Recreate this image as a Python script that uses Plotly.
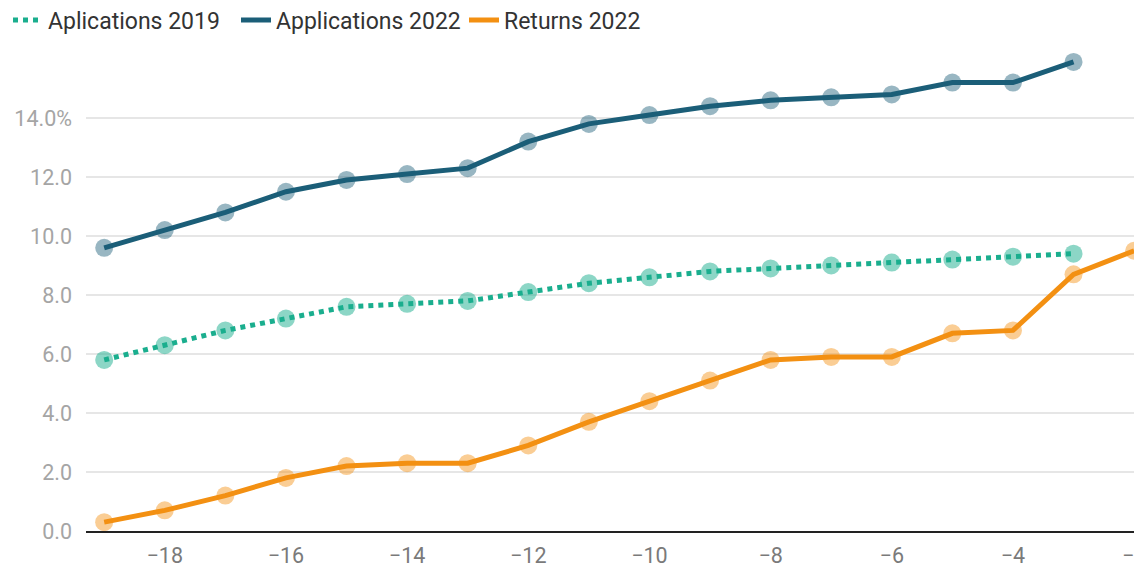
import plotly.graph_objects as go

x = [-19, -18, -17, -16, -15, -14, -13, -12, -11, -10, -9, -8, -7, -6, -5, -4, -3]
x_returns = [-19, -18, -17, -16, -15, -14, -13, -12, -11, -10, -9, -8, -7, -6, -5, -4, -3, -2]

aplications_2019 = [5.8, 6.3, 6.8, 7.2, 7.6, 7.7, 7.8, 8.1, 8.4, 8.6, 8.8, 8.9, 9.0, 9.1, 9.2, 9.3, 9.4]
applications_2022 = [9.6, 10.2, 10.8, 11.5, 11.9, 12.1, 12.3, 13.2, 13.8, 14.1, 14.4, 14.6, 14.7, 14.8, 15.2, 15.2, 15.9]
returns_2022 = [0.3, 0.7, 1.2, 1.8, 2.2, 2.3, 2.3, 2.9, 3.7, 4.4, 5.1, 5.8, 5.9, 5.9, 6.7, 6.8, 8.7, 9.5]

y_tickvals = [0, 2, 4, 6, 8, 10, 12, 14]
y_ticktext = ["0.0", "2.0", "4.0", "6.0", "8.0", "10.0", "12.0", "14.0%"]
x_tickvals = [-18, -16, -14, -12, -10, -8, -6, -4, -2]
x_ticktext = ["\u221218", "\u221216", "\u221214", "\u221212", "\u221210", "\u22128", "\u22126", "\u22124", "\u22122"]

TEAL = "#1aae8e"
BLUE = "#1b5e78"
ORANGE = "#f39012"

series = [
    ("Aplications 2019", x, aplications_2019, TEAL, "dot", "rgba(26,174,142,0.5)"),
    ("Applications 2022", x, applications_2022, BLUE, "solid", "rgba(27,94,120,0.45)"),
    ("Returns 2022", x_returns, returns_2022, ORANGE, "solid", "rgba(243,144,18,0.45)"),
]

fig = go.Figure()
# markers underneath the lines
for name, xs, ys, col, dash, mcol in series:
    fig.add_trace(go.Scatter(
        x=xs, y=ys, mode="markers", showlegend=False, name=name,
        marker=dict(size=18, color=mcol, line=dict(width=0)),
        cliponaxis=False,
    ))
for name, xs, ys, col, dash, mcol in series:
    fig.add_trace(go.Scatter(
        x=xs, y=ys, mode="lines", name=name,
        line=dict(color=col, width=5, dash=dash),
        cliponaxis=False,
    ))

fig.update_layout(
    width=1134, height=559,
    margin=dict(l=78, r=0, t=51, b=36, autoexpand=False),
    paper_bgcolor="white", plot_bgcolor="white",
    font=dict(family="Roboto, sans-serif", color="#999999", size=21),
    showlegend=True,
    legend=dict(
        orientation="h", xref="container", yref="paper",
        x=0.0, y=1.0826, xanchor="left", yanchor="middle",
        font=dict(size=23, color="#333333"),
        itemwidth=30, traceorder="normal",
        entrywidth=183, entrywidthmode="pixels",
        bgcolor="rgba(0,0,0,0)",
    ),
    hovermode=False,
)
fig.update_xaxes(
    range=[-19.3, -1.87], tickvals=x_tickvals, ticktext=x_ticktext,
    showgrid=False, zeroline=False, showline=True, linecolor="#222222", linewidth=2,
    ticks="", ticklabeloverflow="allow", ticklabelstandoff=4,
    tickfont=dict(size=21.5, color="#7a7a7a"),
)
fig.update_yaxes(
    range=[0, 16], tickvals=y_tickvals, ticktext=y_ticktext,
    showgrid=True, gridcolor="#e6e6e6", gridwidth=1.5, zeroline=False,
    ticks="", ticklabelstandoff=13, tickfont=dict(size=21.5, color="#a5a5a5"),
)

fig.write_html("out.html")
